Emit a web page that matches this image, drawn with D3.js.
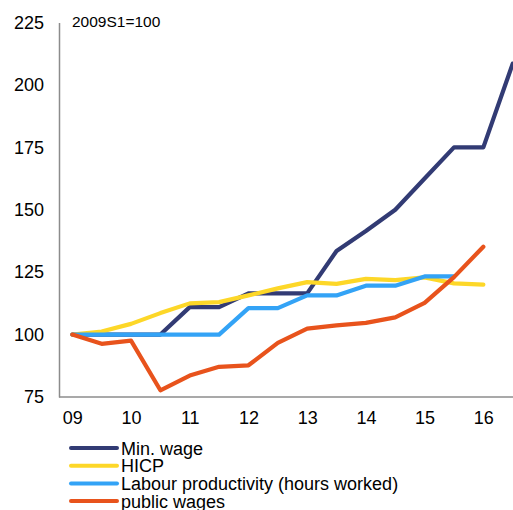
<!DOCTYPE html>
<html>
<head>
<meta charset="utf-8">
<script src="https://cdn.jsdelivr.net/npm/d3@7"></script>
<style>
  body { margin: 0; background: #fff; }
  text { font-family: "Liberation Sans", Arial, sans-serif; fill: #000; }
</style>
</head>
<body>
<script>
// chart data, half-year points
var semesters = ["09S1", "09S2", "10S1", "10S2", "11S1", "11S2", "12S1", "12S2",
                 "13S1", "13S2", "14S1", "14S2", "15S1", "15S2", "16S1", "16S2"];
var minWage = [100, 100, 100, 100, 111, 111, 116.5, 116.5, 116.5, 133.5, 141.5, 150, 162.5, 175, 175, 208.5];
var hicp = [100, 101.2, 104.3, 108.6, 112.5, 113, 115.7, 118.5, 121, 120.3, 122.3, 121.8, 122.9, 120.5, 120, null];
var labourProd = [100, 100, 100, 100, 100, 100, 110.6, 110.6, 115.7, 115.7, 119.6, 119.6, 123.3, 123.3, null, null];
var publicWages = [100, 96.3, 97.6, 77.7, 83.6, 87.1, 87.7, 96.7, 102.4, 103.7, 104.7, 106.9, 112.7, 123, 135.2, null];
var yTicks = [75, 100, 125, 150, 175, 200, 225];
var yearLabels = ["09", "10", "11", "12", "13", "14", "15", "16"];

var series = [
  { name: "Min. wage", values: minWage, color: "#323b74" },
  { name: "HICP", values: hicp, color: "#fdd728" },
  { name: "Labour productivity (hours worked)", values: labourProd, color: "#33a3f6" },
  { name: "public wages", values: publicWages, color: "#e8531c" }
];

var width = 513, height = 510;
var axisX = 59, axisBottom = 397;

var svg = d3.select("body").append("svg")
    .attr("width", width)
    .attr("height", height);

// scales
var x = d3.scalePoint().domain(semesters).range([72.3, 512.7]);
var y = d3.scaleLinear().domain([75, 225]).range([axisBottom, 22.5]);

// y axis
var yAxis = svg.append("g")
    .attr("transform", "translate(" + axisX + ",0)")
    .call(d3.axisLeft(y).tickValues(yTicks).tickSize(0).tickPadding(15));
yAxis.select(".domain").attr("stroke", "#8c8c8c").attr("stroke-width", 1.5);
yAxis.selectAll("text")
    .style("font-size", "18px")
    .attr("font-family", null);

// x axis
var xAxis = svg.append("g")
    .attr("transform", "translate(0," + axisBottom + ")")
    .call(d3.axisBottom(x)
        .tickValues(semesters.filter(function (d) { return d.slice(2) == "S1"; }))
        .tickFormat(function (d, i) { return yearLabels[i]; })
        .tickSize(0).tickPadding(14));
xAxis.select(".domain").remove();
xAxis.selectAll("text")
    .style("font-size", "18px")
    .attr("font-family", null);
svg.append("line")
    .attr("x1", axisX).attr("x2", width)
    .attr("y1", axisBottom).attr("y2", axisBottom)
    .attr("stroke", "#8c8c8c").attr("stroke-width", 1.5);

// base note
svg.append("text")
    .attr("x", 72).attr("y", 27)
    .style("font-size", "15.5px")
    .text("2009S1=100");

// lines
var line = d3.line()
    .defined(function (d) { return d != null; })
    .x(function (d, i) { return x(semesters[i]); })
    .y(function (d) { return y(d); });

svg.selectAll(".series")
    .data(series)
    .enter().append("path")
    .attr("class", "series")
    .attr("fill", "none")
    .attr("stroke", function (d) { return d.color; })
    .attr("stroke-width", 4.2)
    .attr("stroke-linejoin", "round")
    .attr("stroke-linecap", "round")
    .attr("d", function (d) { return line(d.values); });

// legend
var legend = svg.selectAll(".legend")
    .data(series)
    .enter().append("g")
    .attr("class", "legend")
    .attr("transform", function (d, i) { return "translate(71," + (448 + i * 17.7) + ")"; });

legend.append("line")
    .attr("x1", 0).attr("x2", 46)
    .attr("stroke", function (d) { return d.color; })
    .attr("stroke-width", 4)
    .attr("stroke-linecap", "round");

legend.append("text")
    .attr("x", 50).attr("y", 6.5)
    .style("font-size", "18px")
    .text(function (d) { return d.name; });
</script>
</body>
</html>
